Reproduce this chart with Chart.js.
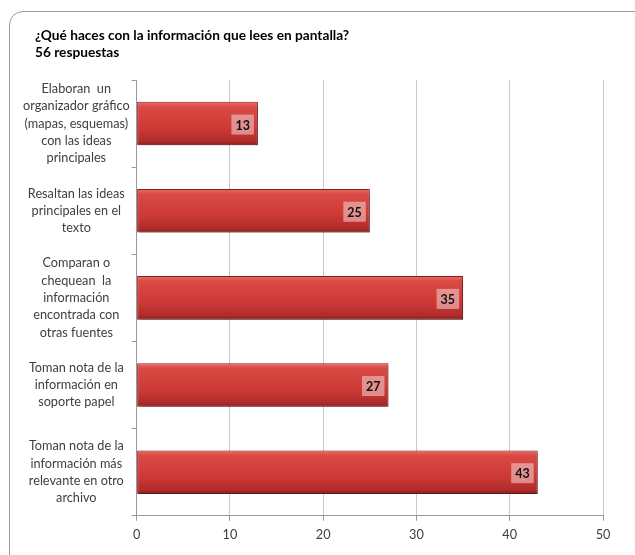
<!DOCTYPE html>
<html>
<head>
<meta charset="utf-8">
<script src="https://cdn.jsdelivr.net/npm/chart.js@4"></script>
<style>
  html, body { margin: 0; padding: 0; background: #fff; overflow: hidden; }
  #wrap { position: relative; width: 635px; height: 555px; }
  #frame {
    position: absolute; left: 9px; top: 11px; width: 640px; height: 570px;
    border: 1px solid #9a9a9a; border-radius: 14px; box-sizing: border-box;
  }
  canvas { position: absolute; left: 0; top: 0; }
</style>
</head>
<body>
<div id="wrap">
  <div id="frame"></div>
  <canvas id="chart" width="635" height="555"></canvas>
</div>
<script>
const titleLines = ['¿Qué haces con la información que lees en pantalla?', '56 respuestas'];

const categories = [
  ['Elaboran  un', 'organizador gráfico', '(mapas, esquemas)', 'con las ideas', 'principales'],
  ['Resaltan las ideas', 'principales en el', 'texto'],
  ['Comparan o', 'chequean  la', 'información', 'encontrada con', 'otras fuentes'],
  ['Toman nota de la', 'información en', 'soporte papel'],
  ['Toman nota de la', 'información más', 'relevante en otro', 'archivo']
];
const counts = [13, 25, 35, 27, 43];
const xTicks = [0, 10, 20, 30, 40, 50];

const FONT = 'Lato, "Open Sans", sans-serif';
const BAR_PCT = 0.5;

// glossy red fill, lighter at the top edge and darker at the bottom
function barFill(ctx) {
  const chart = ctx.chart;
  const area = chart.chartArea;
  if (!area) return '#c83c3c';
  const yScale = chart.scales.y;
  const yc = yScale.getPixelForValue(ctx.dataIndex);
  const h = (area.bottom - area.top) / categories.length * BAR_PCT;
  const g = chart.ctx.createLinearGradient(0, yc - h / 2, 0, yc + h / 2);
  g.addColorStop(0, '#ec6c66');
  g.addColorStop(0.12, '#da4a44');
  g.addColorStop(0.6, '#cd3a36');
  g.addColorStop(0.9, '#b02c2a');
  g.addColorStop(1, '#8e1f1e');
  return g;
}

const titlePlugin = {
  id: 'twoLineTitle',
  afterDraw(chart) {
    const c = chart.ctx;
    c.save();
    c.fillStyle = '#000';
    c.font = 'bold 13.7px ' + FONT;
    c.textBaseline = 'middle';
    titleLines.forEach((t, i) => c.fillText(t, 35, 36 + i * 17));
    c.restore();
  }
};

const shadowPlugin = {
  id: 'barShadow',
  beforeDatasetsDraw(chart) {
    const c = chart.ctx;
    c.save();
    c.shadowColor = 'rgba(0,0,0,0.35)';
    c.shadowOffsetX = 2;
    c.shadowOffsetY = 2;
    c.shadowBlur = 3;
  },
  afterDatasetsDraw(chart) {
    chart.ctx.restore();
  }
};

// value tags inside the end of each bar
const valueTags = {
  id: 'valueTags',
  afterDatasetsDraw(chart) {
    const c = chart.ctx;
    const meta = chart.getDatasetMeta(0);
    c.save();
    c.font = 'bold 12.5px ' + FONT;
    c.textAlign = 'center';
    c.textBaseline = 'middle';
    meta.data.forEach((bar, i) => {
      const txt = String(counts[i]);
      const w = c.measureText(txt).width + 8;
      const h = 20;
      const x = bar.x - 4 - w;
      const y = bar.y - h / 2 + 1;
      c.fillStyle = 'rgba(240,200,200,0.6)';
      c.fillRect(x, y, w, h);
      c.fillStyle = '#111';
      c.fillText(txt, x + w / 2, y + h / 2 + 1);
    });
    c.restore();
  }
};

new Chart(document.getElementById('chart').getContext('2d'), {
  type: 'bar',
  data: {
    labels: categories,
    datasets: [{
      data: counts,
      backgroundColor: barFill,
      borderColor: '#8a1c1c',
      borderWidth: 1,
      borderSkipped: false,
      barPercentage: BAR_PCT,
      categoryPercentage: 1
    }]
  },
  options: {
    indexAxis: 'y',
    responsive: false,
    animation: false,
    layout: { padding: { left: 21, right: 32, top: 80, bottom: 5 } },
    plugins: {
      legend: { display: false },
      tooltip: { enabled: false },
      title: { display: false }
    },
    scales: {
      x: {
        min: 0,
        max: 50,
        afterBuildTicks: axis => { axis.ticks = xTicks.map(v => ({ value: v })); },
        grid: { color: '#c8c8c8', tickLength: 5, tickColor: '#999' },
        border: { color: '#999' },
        ticks: { color: '#404040', font: { family: FONT, size: 12.7 }, padding: 7 }
      },
      y: {
        // labels sit mid-category, so no extra room is needed above/below
        afterFit: axis => { axis.paddingTop = 0; axis.paddingBottom = 0; },
        grid: { offset: true, drawOnChartArea: false, tickLength: 5, color: '#999' },
        border: { color: '#999' },
        ticks: {
          autoSkip: false,
          color: '#404040',
          crossAlign: 'center',
          padding: 2,
          font: { family: FONT, size: 12.7, lineHeight: 1.36 }
        }
      }
    }
  },
  plugins: [titlePlugin, shadowPlugin, valueTags]
});
</script>
</body>
</html>
